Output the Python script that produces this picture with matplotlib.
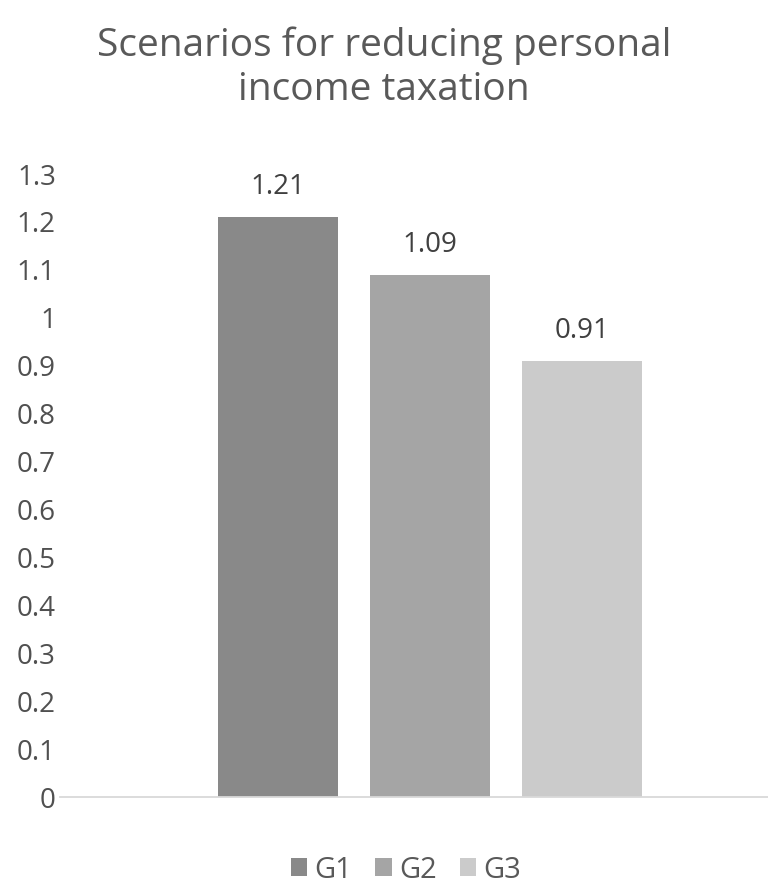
import numpy as np
import matplotlib
matplotlib.use("Agg")
import matplotlib.pyplot as plt

plt.rcParams['font.family'] = ['Open Sans', 'DejaVu Sans']

# data
series = ['G1', 'G2', 'G3']
values = [1.21, 1.09, 0.91]
colors = ['#898989', '#a5a5a5', '#cbcbcb']
yticks = np.arange(0, 1.31, 0.1)
ytick_labels = ['0', '0.1', '0.2', '0.3', '0.4', '0.5', '0.6', '0.7', '0.8', '0.9', '1', '1.1', '1.2', '1.3']

fig = plt.figure(figsize=(7.68, 8.83), dpi=100)
ax = fig.add_axes([60 / 768, 86 / 883, 708 / 768, 623 / 883])

pos = np.arange(len(series)) - 1
width = 120 / 152
for i in range(len(series)):
    ax.bar(pos[i], values[i], width=width, color=colors[i], label=series[i], zorder=2)
    ax.text(pos[i], values[i] + 0.033, '%.2f' % values[i], ha='center', va='bottom',
            fontsize=20, color='#404040')

ax.set_xlim((60 - 430) / 152, (768 - 430) / 152)
ax.set_ylim(0, 1.3)
ax.set_yticks(yticks)
ax.set_yticklabels(ytick_labels)
ax.set_xticks([])
ax.tick_params(axis='y', length=0, labelsize=20, labelcolor='#505050', pad=3)
for s in ['top', 'right', 'left']:
    ax.spines[s].set_visible(False)
ax.spines['bottom'].set_color('#d9d9d9')
ax.spines['bottom'].set_linewidth(1.3)

fig.text(0.5, 1 - 68 / 883, 'Scenarios for reducing personal\nincome taxation', ha='center', va='center',
         fontsize=28, color='#595959', linespacing=1.2)

fig.legend(loc='center', bbox_to_anchor=(406 / 768, 1 - 870 / 883), ncol=3, frameon=False,
           fontsize=21, labelcolor='#595959', handlelength=0.55, handleheight=0.6,
           handletextpad=0.25, columnspacing=0.8)

fig.savefig('out.png', dpi=100)
